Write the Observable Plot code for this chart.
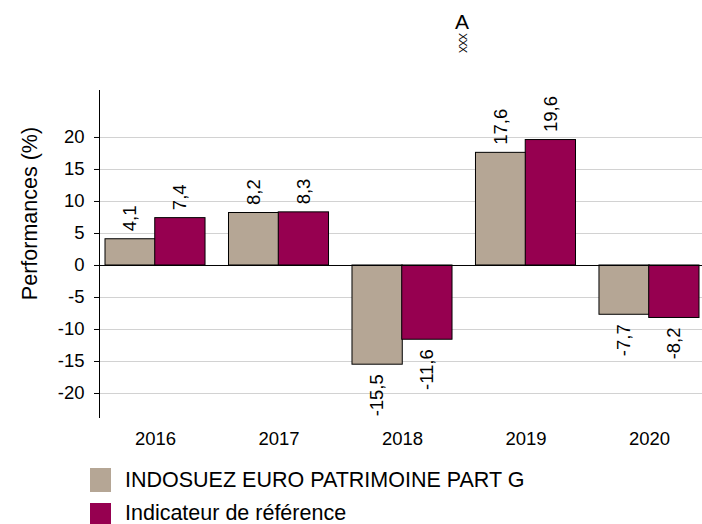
<!DOCTYPE html>
<html><head><meta charset="utf-8">
<script src="https://cdn.jsdelivr.net/npm/d3@7"></script>
<script src="https://cdn.jsdelivr.net/npm/@observablehq/plot@0.6"></script>
<style>
html,body{margin:0;padding:0;background:#fff;overflow:hidden}
body{width:702px;height:524px;position:relative;font-family:"Liberation Sans",Arial,sans-serif;color:#000}
#head{position:relative;height:60px}
#head .t{position:absolute;left:362px;width:200px;text-align:center;top:10px;font-size:21px;line-height:24px}
#head .x{position:absolute;left:362px;width:200px;text-align:center;top:37px;font-size:11px;line-height:11px;letter-spacing:-1px;transform:rotate(90deg);transform-origin:100px 5.5px}
#chart{height:400px}
#chart svg{display:block}
.leg{position:absolute;left:90px;display:flex;align-items:center;font-size:21.5px;line-height:21px}
.leg i{display:block;width:21px;margin-right:14px}
</style></head>
<body>
<div id="head"><div class="t">A</div><div class="x">XXX</div></div>
<div id="chart"></div>
<div class="leg" style="top:468px"><i style="background:#b5a695;height:24px"></i><span>INDOSUEZ EURO PATRIMOINE PART G</span></div>
<div class="leg" style="top:503px"><i style="background:#960050;height:21px"></i><span>Indicateur de référence</span></div>
<script>
const years = ["2016","2017","2018","2019","2020"];
const fundValues = [4.1, 8.2, -15.5, 17.6, -7.7];
const benchValues = [7.4, 8.3, -11.6, 19.6, -8.2];
const yTicks = [-20,-15,-10,-5,0,5,10,15,20];
const fund = years.map((year,i)=>({year,value:fundValues[i]}));
const bench = years.map((year,i)=>({year,value:benchValues[i]}));
const fmt = d => String(d.value).replace(".",",");
const half = 49.75;
const labels = (data, dx) => [
  Plot.text(data.filter(d=>d.value>=0),{x:"year",y:"value",text:fmt,dx,dy:-8,rotate:-90,textAnchor:"start",lineAnchor:"middle",fontSize:18.5,fill:"#000"}),
  Plot.text(data.filter(d=>d.value<0),{x:"year",y:"value",text:fmt,dx,dy:9.5,rotate:-90,textAnchor:"end",lineAnchor:"middle",fontSize:18.5,fill:"#000"})
];
const plot = Plot.plot({
  width:702,height:400,marginTop:30,marginBottom:43,marginLeft:99,marginRight:0,
  style:{fontFamily:'"Liberation Sans",Arial,sans-serif',background:"#fff",color:"#000"},
  x:{domain:years,range:[105,699],paddingInner:0.19,paddingOuter:0,round:false,label:null},
  y:{domain:[-23.75,27.34],label:null},
  marks:[
    Plot.ruleY(yTicks.filter(d=>d!==0),{stroke:"#d2d2d2",strokeWidth:1.2}),
    Plot.barY(fund,{x:"year",y:"value",fill:"#b5a695",stroke:"#000",insetRight:half}),
    Plot.barY(bench,{x:"year",y:"value",fill:"#960050",stroke:"#000",insetLeft:half}),
    Plot.ruleY([0],{stroke:"#000"}),
    Plot.frame({anchor:"left",stroke:"#000"}),
    Plot.axisY({ticks:yTicks,tickSize:5,tickPadding:10,tickFormat:d=>String(d),fontSize:18.5,label:null}),
    Plot.axisX({tickSize:0,tickPadding:14,fontSize:18.5,label:null}),
    Plot.text(["Performances (%)"],{frameAnchor:"left",dx:-69,dy:-40.5,rotate:-90,textAnchor:"middle",fontSize:21.5,fill:"#000"}),
    ...labels(fund,-25),
    ...labels(bench,25)
  ]
});
document.getElementById("chart").append(plot);
</script>
</body></html>
